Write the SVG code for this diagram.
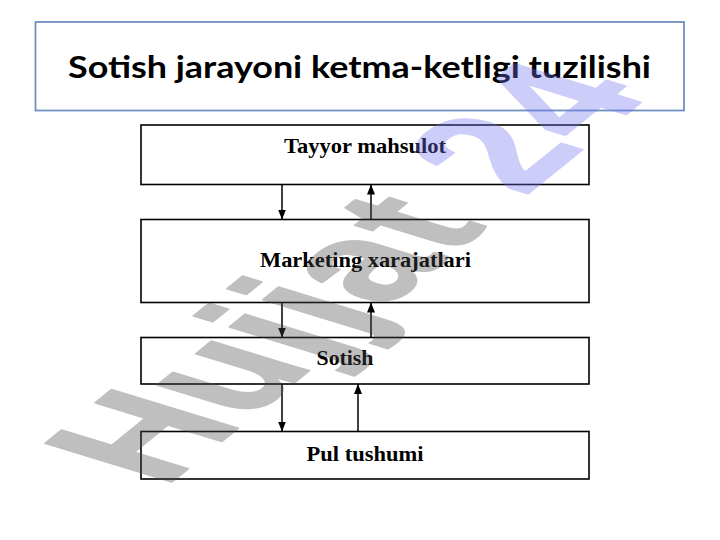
<svg xmlns="http://www.w3.org/2000/svg" width="720" height="540" viewBox="0 0 720 540">
<style>
.box{fill:none;stroke:#000;stroke-width:1.6}
.lbl{font-family:"Liberation Serif","Times New Roman",serif;font-weight:bold;font-size:21px;fill:#000;text-anchor:middle}
.title{font-family:Lato,"Open Sans","Liberation Sans",sans-serif;font-weight:bold;font-size:31px;fill:#000;text-anchor:middle}
.con{stroke:#000;stroke-width:1.5;fill:none;marker-end:url(#ah)}
.wm{font-family:"Liberation Sans",Arial,sans-serif;font-weight:bold;font-size:100px;letter-spacing:2px;stroke-width:1.5;stroke-linejoin:round}
</style>
<defs>
<marker id="ah" viewBox="0 0 10 8" refX="10" refY="4" markerWidth="10" markerHeight="8" markerUnits="userSpaceOnUse" orient="auto">
<path d="M0,0 L10,4 L0,8 z" fill="#000"/>
</marker>
</defs>
<rect width="720" height="540" fill="#fff"/>
<g id="title">
<rect x="35.5" y="22" width="648.5" height="88.5" fill="#fff" stroke="#6f8fc2" stroke-width="1.8"/>
<text class="title" x="359.5" y="78" textLength="583" lengthAdjust="spacingAndGlyphs">Sotish jarayoni ketma-ketligi tuzilishi</text>
</g>
<g id="node-tayyor">
<rect class="box" x="141" y="125" width="448" height="59.5"/>
<text class="lbl" x="365" y="153" textLength="162" lengthAdjust="spacingAndGlyphs">Tayyor mahsulot</text>
</g>
<g id="node-marketing">
<rect class="box" x="141" y="219.5" width="448" height="83"/>
<text class="lbl" x="365.5" y="266.5" textLength="211" lengthAdjust="spacingAndGlyphs">Marketing xarajatlari</text>
</g>
<g id="node-sotish">
<rect class="box" x="141" y="337.5" width="448" height="46.5"/>
<text class="lbl" x="345" y="365" textLength="57" lengthAdjust="spacingAndGlyphs">Sotish</text>
</g>
<g id="node-pul">
<rect class="box" x="141" y="431.5" width="448" height="47.5"/>
<text class="lbl" x="365" y="461" textLength="117" lengthAdjust="spacingAndGlyphs">Pul tushumi</text>
</g>
<g id="connectors">
<line class="con" x1="282" y1="184.5" x2="282" y2="219.5"/>
<line class="con" x1="371" y1="219.5" x2="371" y2="184.5"/>
<line class="con" x1="282" y1="302.5" x2="282" y2="337.5"/>
<line class="con" x1="371" y1="337.5" x2="371" y2="302.5"/>
<line class="con" x1="282" y1="384" x2="282" y2="431.5"/>
<line class="con" x1="358" y1="431.5" x2="358" y2="384"/>
</g>
<g id="watermark" opacity="0.35">
<text class="wm" transform="matrix(1.1266,-0.9113,1.8312,0.5607,164,488)"><tspan fill="#4a4a4a" stroke="#4a4a4a">Hujjat </tspan><tspan fill="#7272f1" stroke="#7272f1">24</tspan></text>
</g>
</svg>
